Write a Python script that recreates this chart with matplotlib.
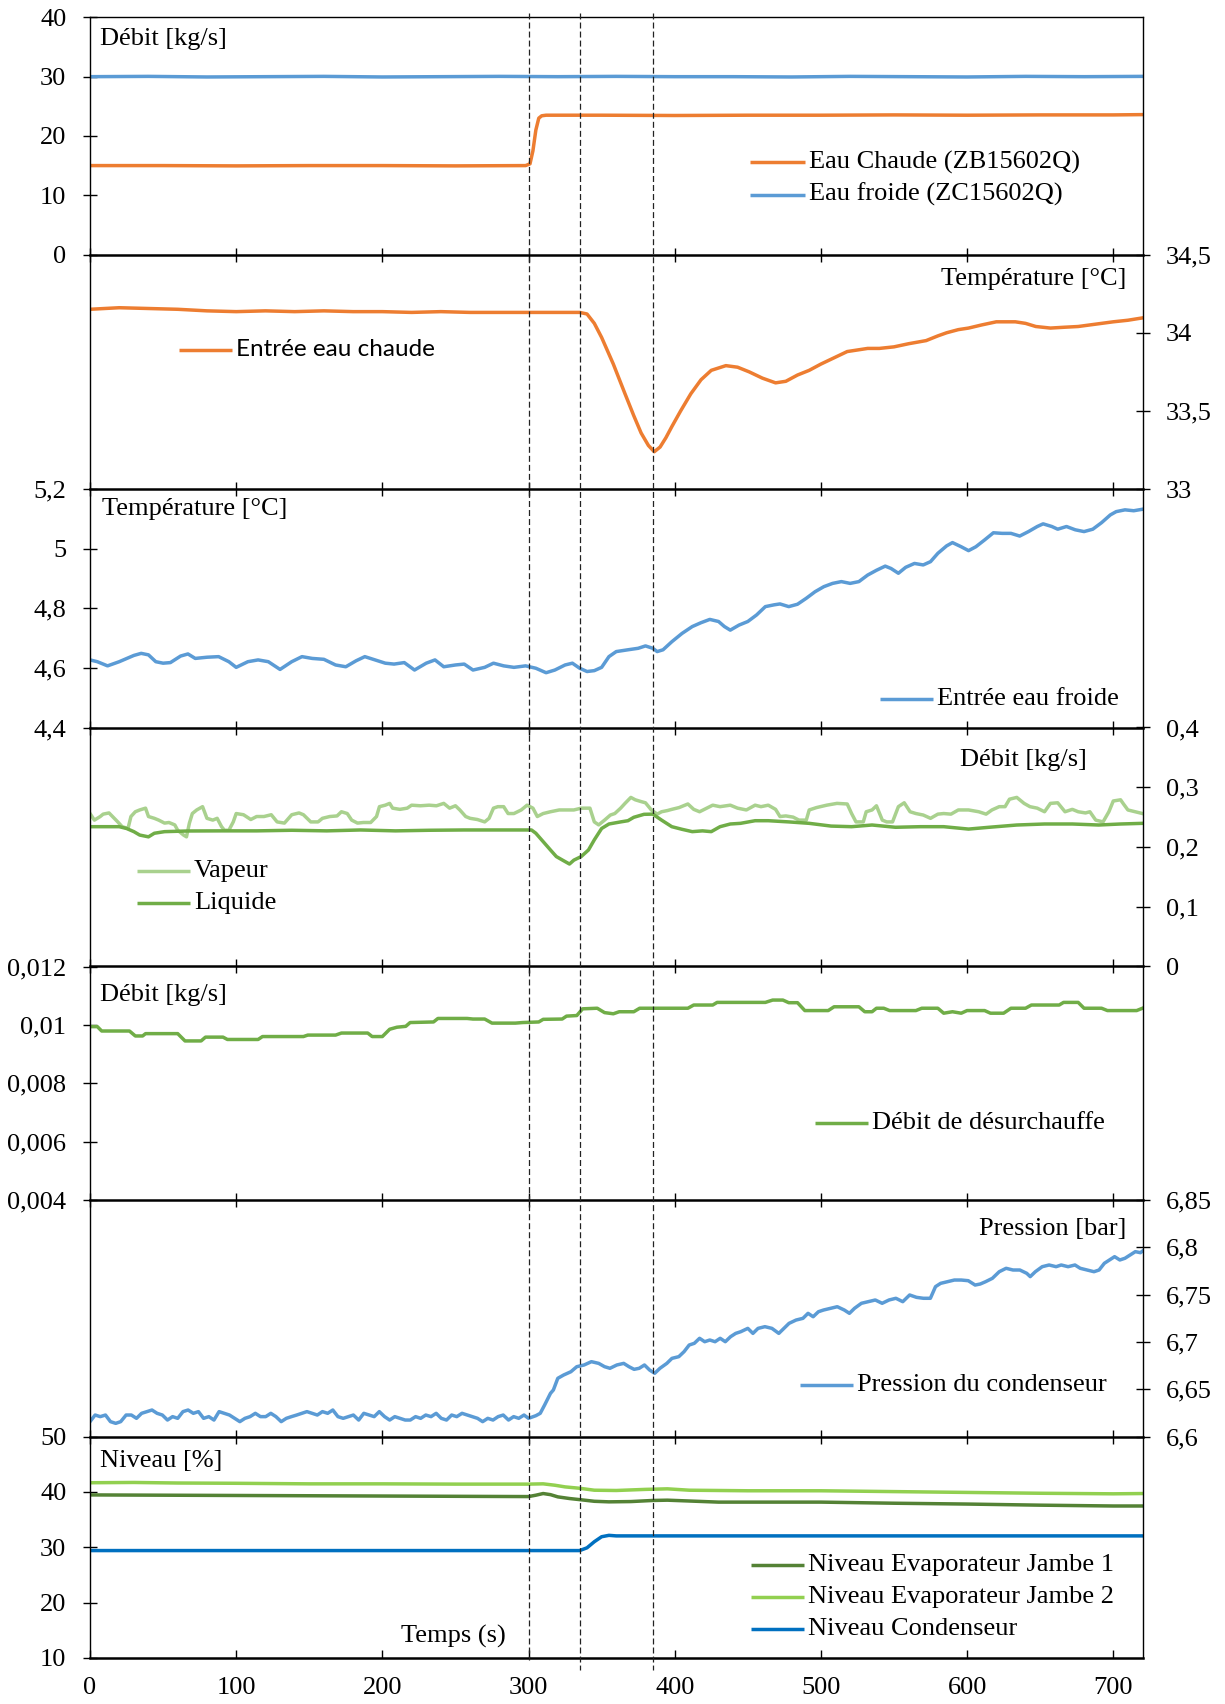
import matplotlib
matplotlib.use("Agg")
import matplotlib.pyplot as plt
from matplotlib.lines import Line2D
from matplotlib import transforms
from matplotlib.ticker import FuncFormatter

plt.rcParams['font.family'] = ['Liberation Serif', 'DejaVu Serif']
plt.rcParams['font.size'] = 19
plt.rcParams['lines.scale_dashes'] = False

# ---------------- DATA ----------------
x_ticks = [0, 100, 200, 300, 400, 500, 600, 700]
event_times = [300, 335, 385]

# Panel 1 : Débit eau chaude / eau froide [kg/s]
t_cold = [0, 40, 80, 120, 160, 200, 240, 280, 320, 360, 400, 440, 480, 520, 560, 600, 640, 680, 720]
flow_cold = [30.0, 30.05, 29.95, 30.0, 30.05, 29.95, 30.0, 30.05, 30.0, 30.05, 30.0, 30.0, 29.95, 30.05, 30.0, 29.95, 30.05, 30.0, 30.05]
t_hot = [0, 50, 100, 150, 200, 250, 298, 301, 303, 305, 307, 309, 312, 350, 400, 450, 500, 550, 600, 650, 700, 720]
flow_hot = [15.0, 15.0, 14.95, 15.0, 15.0, 14.95, 15.0, 15.3, 17.5, 21.0, 23.0, 23.4, 23.5, 23.5, 23.45, 23.5, 23.5, 23.55, 23.5, 23.55, 23.55, 23.6]

# Panel 2 : Entrée eau chaude [°C]
t_hot_in = [0, 20, 40, 60, 80, 100, 120, 140, 160, 180, 200, 220, 240, 260, 280, 300, 320, 335, 340, 345,
            350, 358, 366, 372, 377, 382, 386, 390, 394, 398, 404, 411, 418, 425, 435, 443, 451, 460, 469, 476,
            484, 492, 500, 509, 518, 525, 532, 540, 550, 560, 572, 580, 586, 594, 601, 610, 620, 633, 640, 647,
            657, 666, 676, 684, 692, 700, 710, 720]
temp_hot_in = [34.15, 34.16, 34.155, 34.15, 34.14, 34.135, 34.14, 34.135, 34.14, 34.135, 34.135, 34.13, 34.135, 34.13, 34.13, 34.13, 34.13, 34.13, 34.12, 34.06,
               33.97, 33.80, 33.61, 33.47, 33.36, 33.28, 33.24, 33.27, 33.33, 33.40, 33.50, 33.61, 33.70, 33.76, 33.79, 33.78, 33.75, 33.71, 33.68, 33.69,
               33.73, 33.76, 33.80, 33.84, 33.88, 33.89, 33.90, 33.90, 33.91, 33.93, 33.95, 33.98, 34.00, 34.02, 34.03, 34.05, 34.07, 34.07, 34.06, 34.04,
               34.03, 34.035, 34.04, 34.05, 34.06, 34.07, 34.08, 34.095]

# Panel 3 : Entrée eau froide [°C]
t_cold_in = [0, 5, 12, 20, 30, 35, 40, 45, 50, 55, 62, 67, 72, 80, 88, 95, 100, 108, 115, 122,
             130, 138, 145, 152, 160, 168, 175, 182, 188, 195, 202, 208, 215, 222, 230, 236, 242, 250, 256, 262,
             270, 276, 283, 290, 298, 305, 312, 318, 325, 330, 335, 340, 345, 350, 355, 360, 368, 375, 380, 385,
             388, 392, 398, 405, 412, 418, 424, 430, 434, 438, 444, 450, 456, 462, 468, 472, 478, 484, 490, 496,
             502, 508, 514, 520, 526, 532, 538, 544, 548, 553, 558, 564, 570, 575, 580, 586, 590, 596, 601, 606,
             612, 618, 624, 630, 636, 642, 648, 652, 658, 662, 668, 674, 680, 686, 692, 698, 702, 708, 714, 720]
temp_cold_in = [4.627, 4.621, 4.607, 4.621, 4.642, 4.649, 4.644, 4.621, 4.616, 4.618, 4.640, 4.647, 4.632, 4.636, 4.638, 4.621, 4.602, 4.621, 4.627, 4.621,
                4.595, 4.621, 4.638, 4.632, 4.629, 4.610, 4.604, 4.624, 4.638, 4.627, 4.616, 4.613, 4.618, 4.593, 4.616, 4.627, 4.604, 4.610, 4.613, 4.593,
                4.602, 4.616, 4.607, 4.602, 4.607, 4.599, 4.584, 4.593, 4.610, 4.616, 4.599, 4.588, 4.591, 4.602, 4.638, 4.655, 4.661, 4.666, 4.674, 4.666,
                4.655, 4.661, 4.688, 4.716, 4.739, 4.752, 4.763, 4.756, 4.739, 4.727, 4.744, 4.756, 4.778, 4.806, 4.812, 4.815, 4.806, 4.814, 4.834, 4.856,
                4.873, 4.884, 4.890, 4.884, 4.890, 4.912, 4.928, 4.942, 4.934, 4.918, 4.938, 4.951, 4.946, 4.957, 4.985, 5.010, 5.021, 5.007, 4.994, 5.007,
                5.030, 5.054, 5.052, 5.052, 5.043, 5.058, 5.075, 5.084, 5.075, 5.066, 5.075, 5.064, 5.058, 5.066, 5.088, 5.114, 5.125, 5.131, 5.128, 5.133]

# Panel 4 : Débit vapeur / liquide [kg/s]
t_vap = [0, 3, 7, 9, 13, 15, 19, 22, 26, 28, 31, 34, 38, 40, 44, 47, 51, 54, 58, 60,
         64, 66, 68, 70, 73, 77, 80, 84, 87, 90, 92, 95, 98, 100, 105, 110, 114, 119, 124, 128,
         133, 138, 143, 146, 151, 156, 159, 164, 169, 172, 176, 179, 183, 187, 192, 196, 198, 202, 205, 207,
         212, 217, 220, 226, 232, 237, 242, 246, 250, 253, 257, 260, 265, 270, 273, 276, 279, 283, 286, 290,
         295, 299, 303, 306, 310, 315, 321, 326, 331, 336, 342, 345, 348, 352, 356, 359, 363, 366, 370, 373,
         377, 380, 384, 388, 391, 395, 398, 403, 409, 413, 417, 422, 426, 431, 438, 443, 449, 455, 459, 464,
         469, 472, 476, 481, 485, 490, 492, 497, 504, 511, 518, 521, 524, 529, 531, 535, 538, 542, 545, 549,
         553, 557, 561, 565, 570, 575, 580, 584, 589, 594, 601, 608, 613, 617, 622, 626, 629, 634, 639, 643,
         648, 653, 657, 662, 667, 672, 676, 681, 684, 688, 693, 697, 700, 705, 707, 710, 715, 720]
flow_vap = [0.256, 0.245, 0.251, 0.255, 0.257, 0.252, 0.242, 0.234, 0.231, 0.251, 0.259, 0.262, 0.265, 0.251, 0.248, 0.245, 0.240, 0.241, 0.237, 0.228,
            0.220, 0.217, 0.240, 0.256, 0.262, 0.2675, 0.248, 0.245, 0.248, 0.234, 0.228, 0.228, 0.242, 0.256, 0.254, 0.246, 0.251, 0.251, 0.254, 0.242,
            0.240, 0.254, 0.257, 0.254, 0.242, 0.242, 0.248, 0.251, 0.252, 0.259, 0.256, 0.245, 0.240, 0.241, 0.241, 0.251, 0.2675, 0.270, 0.273, 0.265,
            0.263, 0.265, 0.270, 0.269, 0.270, 0.269, 0.273, 0.265, 0.269, 0.262, 0.251, 0.248, 0.246, 0.242, 0.248, 0.265, 0.2675, 0.2675, 0.256, 0.256,
            0.262, 0.270, 0.265, 0.251, 0.256, 0.259, 0.262, 0.262, 0.262, 0.265, 0.265, 0.242, 0.237, 0.245, 0.2535, 0.256, 0.265, 0.273, 0.283, 0.279,
            0.276, 0.274, 0.262, 0.255, 0.259, 0.261, 0.263, 0.266, 0.272, 0.263, 0.259, 0.265, 0.270, 0.2675, 0.270, 0.265, 0.262, 0.270, 0.2675, 0.270,
            0.263, 0.251, 0.252, 0.250, 0.245, 0.245, 0.262, 0.266, 0.270, 0.273, 0.272, 0.256, 0.242, 0.242, 0.259, 0.262, 0.269, 0.245, 0.242, 0.242,
            0.2675, 0.274, 0.259, 0.256, 0.2535, 0.248, 0.255, 0.256, 0.255, 0.262, 0.262, 0.259, 0.255, 0.262, 0.2675, 0.2675, 0.280, 0.283, 0.273, 0.2675,
            0.265, 0.259, 0.273, 0.274, 0.259, 0.263, 0.259, 0.257, 0.259, 0.245, 0.242, 0.259, 0.277, 0.279, 0.272, 0.262, 0.259, 0.256]
t_liq = [0, 20, 25, 30, 34, 40, 44, 51, 67, 90, 114, 138, 162, 185, 209, 232, 256, 280, 302, 305,
         310, 315, 319, 324, 328, 331, 336, 341, 345, 350, 355, 363, 368, 372, 379, 385, 391, 398, 405, 412,
         419, 425, 431, 438, 445, 455, 464, 478, 492, 507, 521, 535, 551, 568, 584, 601, 615, 634, 653, 672,
         690, 705, 720]
flow_liq = [0.234, 0.234, 0.231, 0.2257, 0.220, 0.217, 0.223, 0.2257, 0.2268, 0.227, 0.227, 0.228, 0.227, 0.2285, 0.227, 0.228, 0.2285, 0.2285, 0.2285, 0.223,
            0.209, 0.195, 0.184, 0.177, 0.1715, 0.178, 0.184, 0.195, 0.212, 0.231, 0.2385, 0.242, 0.244, 0.2497, 0.2547, 0.255, 0.245, 0.234, 0.2296, 0.2257,
            0.227, 0.2257, 0.234, 0.2385, 0.2396, 0.244, 0.244, 0.242, 0.2396, 0.235, 0.234, 0.2368, 0.233, 0.234, 0.234, 0.230, 0.233, 0.2368, 0.2385, 0.2385,
            0.2368, 0.2385, 0.2396]

# Panel 5 : Débit de désurchauffe [kg/s]
t_desup = [0, 5, 8, 27, 31, 36, 38, 60, 65, 76, 79, 91, 94, 115, 118, 146, 149, 168, 172, 190,
           193, 200, 205, 210, 216, 219, 235, 238, 258, 262, 270, 275, 291, 296, 307, 310, 323, 326, 333, 337,
           347, 352, 358, 362, 372, 376, 409, 413, 426, 429, 462, 467, 474, 478, 484, 489, 505, 509, 526, 530,
           535, 538, 543, 547, 565, 569, 580, 584, 590, 596, 600, 612, 616, 625, 630, 640, 644, 663, 666, 676,
           680, 692, 696, 716, 720]
flow_desup = [0.00994, 0.00994, 0.00979, 0.00979, 0.00962, 0.00962, 0.00970, 0.00970, 0.00945, 0.00945, 0.00958, 0.00958, 0.00950, 0.00950, 0.00960, 0.00960, 0.00965, 0.00965, 0.00972, 0.00972,
              0.00960, 0.00960, 0.00985, 0.00992, 0.00995, 0.01008, 0.01010, 0.01022, 0.01022, 0.01020, 0.01020, 0.01006, 0.01006, 0.01008, 0.01010, 0.01019, 0.01020, 0.01030, 0.01032, 0.01055,
              0.01057, 0.01042, 0.01038, 0.01045, 0.01045, 0.01057, 0.01057, 0.01068, 0.01068, 0.01077, 0.01077, 0.01085, 0.01085, 0.01076, 0.01076, 0.01049, 0.01049, 0.01062, 0.01062, 0.01045,
              0.01045, 0.01057, 0.01057, 0.01049, 0.01049, 0.01057, 0.01057, 0.01040, 0.01045, 0.01040, 0.01049, 0.01049, 0.01040, 0.01040, 0.01057, 0.01057, 0.01068, 0.01068, 0.01077, 0.01077,
              0.01057, 0.01057, 0.01049, 0.01049, 0.01057]

# Panel 6 : Pression du condenseur [bar]
t_press = [0, 3.5, 7, 10.6, 14, 17.6, 21, 24.7, 28.3, 31.8, 35.3, 38.9, 42.4, 45.9, 49.5, 53, 56.5, 60, 63.6, 67.1,
           70.7, 74.2, 77.7, 81.3, 84.8, 88.3, 91.9, 95.4, 98.9, 102.5, 106, 109.5, 113.1, 116.6, 120.2, 123.7, 127.2, 130.8, 134.3, 137.8,
           141.4, 144.9, 148.4, 152, 155.5, 159, 162.6, 166.1, 169.6, 173.2, 176.7, 180.2, 183.8, 187.3, 190.9, 194.4, 197.9, 201.5, 205, 208.5,
           212.1, 215.6, 219.1, 222.7, 226.2, 229.7, 233.3, 236.8, 240.3, 243.9, 247.4, 250.9, 254.5, 258, 261.5, 265.1, 268.6, 272.1, 275.7, 279.2,
           282.7, 286.3, 289.8, 293.3, 296.9, 300, 305, 308, 311, 315, 317, 320, 324, 329, 333, 338, 343, 348, 352, 355.7,
           360.4, 365.1, 368.7, 372.2, 375.7, 379.3, 382.8, 386.3, 389.9, 394.6, 398.1, 402.8, 406.4, 409.9, 413.4, 417, 420.5, 424, 427.6, 431.1,
           434.6, 438.2, 441.7, 445.2, 450, 453.5, 457, 461.7, 466.5, 471.2, 474.7, 478.2, 483, 487.7, 491.2, 494.7, 498.3, 501.8, 506.5, 511.2,
           516, 519.5, 523, 527.7, 532.4, 537.2, 541.9, 546.6, 551.3, 556, 560.7, 565.4, 570.1, 574.9, 578.4, 581.9, 586.6, 591.3, 596, 600.8,
           605.5, 609, 612.6, 617.3, 622, 626.7, 631.4, 636.1, 640.8, 643.2, 646.7, 651.4, 656.1, 660.9, 664.4, 669.1, 673.8, 677.4, 682.1, 686.8,
           690.3, 693.9, 697.4, 700.9, 704.5, 708, 711.5, 715.1, 718.6, 720]
press = [6.6157, 6.6227, 6.6210, 6.6227, 6.6157, 6.6139, 6.6157, 6.6227, 6.6227, 6.6192, 6.6245, 6.6263, 6.6280, 6.6245, 6.6227, 6.6174, 6.6210, 6.6192, 6.6263, 6.6280,
         6.6245, 6.6263, 6.6192, 6.6210, 6.6174, 6.6263, 6.6245, 6.6227, 6.6192, 6.6157, 6.6192, 6.6210, 6.6245, 6.6210, 6.6210, 6.6245, 6.6210, 6.6157, 6.6192, 6.6210,
         6.6227, 6.6245, 6.6263, 6.6245, 6.6227, 6.6263, 6.6245, 6.6280, 6.6210, 6.6192, 6.6210, 6.6227, 6.6174, 6.6245, 6.6227, 6.6210, 6.6263, 6.6210, 6.6174, 6.6210,
         6.6192, 6.6174, 6.6174, 6.6210, 6.6192, 6.6227, 6.6210, 6.6245, 6.6192, 6.6174, 6.6227, 6.6210, 6.6245, 6.6227, 6.6210, 6.6192, 6.6157, 6.6192, 6.6174, 6.6210,
         6.6227, 6.6174, 6.6210, 6.6192, 6.6227, 6.6192, 6.6220, 6.6245, 6.6333, 6.6456, 6.6492, 6.6615, 6.6650, 6.6685, 6.6738, 6.6756, 6.6791, 6.6773, 6.6738, 6.6721,
         6.6756, 6.6773, 6.6738, 6.6710, 6.6721, 6.6756, 6.6703, 6.6668, 6.6721, 6.6773, 6.6826, 6.6844, 6.6897, 6.6967, 6.6985, 6.7038, 6.7002, 6.7020, 6.7002, 6.7038,
         6.7002, 6.7055, 6.7090, 6.7108, 6.7143, 6.7090, 6.7143, 6.7161, 6.7143, 6.7090, 6.7143, 6.7196, 6.7231, 6.7249, 6.7302, 6.7266, 6.7319, 6.7337, 6.7355, 6.7372,
         6.7337, 6.7302, 6.7355, 6.7408, 6.7425, 6.7443, 6.7408, 6.7443, 6.7461, 6.7425, 6.7496, 6.7471, 6.7461, 6.7461, 6.7584, 6.7619, 6.7636, 6.7654, 6.7654, 6.7647,
         6.7601, 6.7612, 6.7636, 6.7672, 6.7742, 6.7778, 6.7760, 6.7760, 6.7725, 6.7690, 6.7742, 6.7795, 6.7813, 6.7795, 6.7813, 6.7795, 6.7813, 6.7778, 6.7760, 6.7742,
         6.7760, 6.7831, 6.7866, 6.7901, 6.7866, 6.7884, 6.7919, 6.7954, 6.7943, 6.7960]

# Panel 7 : Niveaux [%]
t_j1 = [0, 100, 200, 300, 305, 310, 315, 320, 328, 335, 345, 355, 370, 385, 395, 410, 430, 500, 550, 600, 650, 700, 720]
level_j1 = [39.45, 39.35, 39.25, 39.15, 39.4, 39.7, 39.5, 39.1, 38.8, 38.6, 38.3, 38.2, 38.25, 38.45, 38.5, 38.35, 38.15, 38.15, 37.95, 37.8, 37.6, 37.45, 37.45]
t_j2 = [0, 30, 60, 100, 150, 200, 250, 300, 310, 318, 325, 335, 345, 360, 380, 395, 410, 450, 500, 550, 600, 650, 700, 720]
level_j2 = [41.65, 41.7, 41.6, 41.55, 41.45, 41.45, 41.4, 41.4, 41.45, 41.2, 40.9, 40.65, 40.3, 40.25, 40.45, 40.55, 40.3, 40.2, 40.2, 40.05, 39.9, 39.75, 39.65, 39.7]
t_cond = [0, 335, 340, 345, 350, 355, 360, 720]
level_cond = [29.4, 29.4, 29.9, 31.0, 31.9, 32.15, 32.05, 32.05]

# ---------------- STYLE ----------------
C_ORANGE = '#ED7D31'
C_BLUE = '#5B9BD5'
C_LGREEN = '#A9D18E'
C_GREEN = '#70AD47'
C_DGREEN = '#548235'
C_YGREEN = '#92D050'
C_CBLUE = '#0070C0'
LW = 2.5
FS = 19

W, H = 1225, 1704
fig = plt.figure(figsize=(W / 100, H / 100), dpi=100)


def fx(px):
    return px / W


def fy(py):
    return 1 - py / H


def comma(v, pos):
    return ('%g' % v).replace('.', ',')


bounds = [17.4, 254.5, 489.3, 727.5, 966.5, 1200, 1436.5, 1658]
L, R = 90, 1142.5
panel_cfg = [
    ('left', (0, 40), [0, 10, 20, 30, 40]),
    ('right', (33, 34.5), [33, 33.5, 34, 34.5]),
    ('left', (4.4, 5.2), [4.4, 4.6, 4.8, 5.0, 5.2]),
    ('right', (0, 0.4), [0, 0.1, 0.2, 0.3, 0.4]),
    ('left', (0.004, 0.012), [0.004, 0.006, 0.008, 0.010, 0.012]),
    ('right', (6.6, 6.85), [6.6, 6.65, 6.7, 6.75, 6.8, 6.85]),
    ('left', (10, 50), [10, 20, 30, 40, 50]),
]

axes = []
for i, (side, ylim, yt) in enumerate(panel_cfg):
    top, bot = bounds[i], bounds[i + 1]
    ax = fig.add_axes([fx(L), fy(bot), fx(R - L), (bot - top) / H])
    ax.set_facecolor('none')
    ax.set_xlim(0, 720)
    ax.set_ylim(*ylim)
    ax.set_yticks(yt)
    ax.yaxis.set_major_formatter(FuncFormatter(comma))
    ax.set_xticks(x_ticks)
    for s in ['left', 'right']:
        ax.spines[s].set_linewidth(1.0)
    ax.spines['bottom'].set_linewidth(1.8)
    if i == 0:
        ax.spines['top'].set_linewidth(1.0)
    else:
        ax.spines['top'].set_visible(False)
    if side == 'left':
        ax.tick_params(axis='y', left=True, right=False, labelleft=True, labelright=False,
                       direction='inout', length=10, width=1, pad=12, labelsize=FS)
    else:
        ax.tick_params(axis='y', left=False, right=True, labelleft=False, labelright=True,
                       direction='inout', length=10, width=1, pad=12, labelsize=FS)
    if i < 6:
        ax.tick_params(axis='x', bottom=True, top=False, labelbottom=False,
                       direction='inout', length=10, width=1)
    else:
        ax.tick_params(axis='x', bottom=True, top=False, labelbottom=True,
                       direction='in', length=6, width=1, pad=14, labelsize=FS)
    axes.append(ax)

ax1, ax2, ax3, ax4, ax5, ax6, ax7 = axes

ax1.plot(t_hot, flow_hot, color=C_ORANGE, lw=LW)
ax1.plot(t_cold, flow_cold, color=C_BLUE, lw=LW)
ax2.plot(t_hot_in, temp_hot_in, color=C_ORANGE, lw=LW)
ax3.plot(t_cold_in, temp_cold_in, color=C_BLUE, lw=LW)
ax4.plot(t_vap, flow_vap, color=C_LGREEN, lw=LW)
ax4.plot(t_liq, flow_liq, color=C_GREEN, lw=LW)
ax5.plot(t_desup, flow_desup, color=C_GREEN, lw=LW)
ax6.plot(t_press, press, color=C_BLUE, lw=LW)
ax7.plot(t_j1, level_j1, color=C_DGREEN, lw=LW)
ax7.plot(t_j2, level_j2, color=C_YGREEN, lw=LW)
ax7.plot(t_cond, level_cond, color=C_CBLUE, lw=LW)

# dashed event lines spanning all panels
blend = transforms.blended_transform_factory(ax7.transData, fig.transFigure)
for k, te in enumerate(event_times):
    ybot = 1660 if k == 0 else 1670
    fig.add_artist(Line2D([te, te], [fy(13), fy(ybot)], transform=blend, color='#222222',
                          lw=0.9, linestyle=(0, (4.3, 2.2)), zorder=5))


# ---------------- TEXT / LEGENDS ----------------
def ftext(x, y, s, ha='left', **kw):
    fig.text(fx(x), fy(y), s, ha=ha, va='center', fontsize=kw.pop('fontsize', FS), **kw)


def legend_item(x0, x1, y, color, label, family=None, fontsize=FS):
    fig.add_artist(Line2D([fx(x0), fx(x1)], [fy(y), fy(y)], transform=fig.transFigure,
                          color=color, lw=LW, solid_capstyle='butt'))
    kw = {}
    if family:
        kw['family'] = family
    ftext(x1 + 4, y, label, fontsize=fontsize, **kw)


ftext(100, 39, 'Débit [kg/s]')
legend_item(750, 805, 162, C_ORANGE, 'Eau Chaude (ZB15602Q)')
legend_item(750, 805, 194.5, C_BLUE, 'Eau froide (ZC15602Q)')

ftext(1126, 279, 'Température [°C]', ha='right')
legend_item(179, 232, 350, C_ORANGE, 'Entrée eau chaude', family=['Lato', 'DejaVu Sans'], fontsize=17.5)

ftext(102, 509, 'Température [°C]')
legend_item(880, 933, 699, C_BLUE, 'Entrée eau froide')

ftext(1087, 760, 'Débit [kg/s]', ha='right')
legend_item(137, 190, 871, C_LGREEN, 'Vapeur')
legend_item(137, 190, 903, C_GREEN, 'Liquide')

ftext(100, 995, 'Débit [kg/s]')
legend_item(815, 868, 1123, C_GREEN, 'Débit de désurchauffe')

ftext(1126, 1229, 'Pression [bar]', ha='right')
legend_item(800, 853, 1385, C_BLUE, 'Pression du condenseur')

ftext(100, 1461, 'Niveau [%]')
legend_item(751, 804, 1565, C_DGREEN, 'Niveau Evaporateur Jambe 1')
legend_item(751, 804, 1597, C_YGREEN, 'Niveau Evaporateur Jambe 2')
legend_item(751, 804, 1629, C_CBLUE, 'Niveau Condenseur')
ftext(453, 1636, 'Temps (s)', ha='center')

fig.savefig('out.png', dpi=100)
